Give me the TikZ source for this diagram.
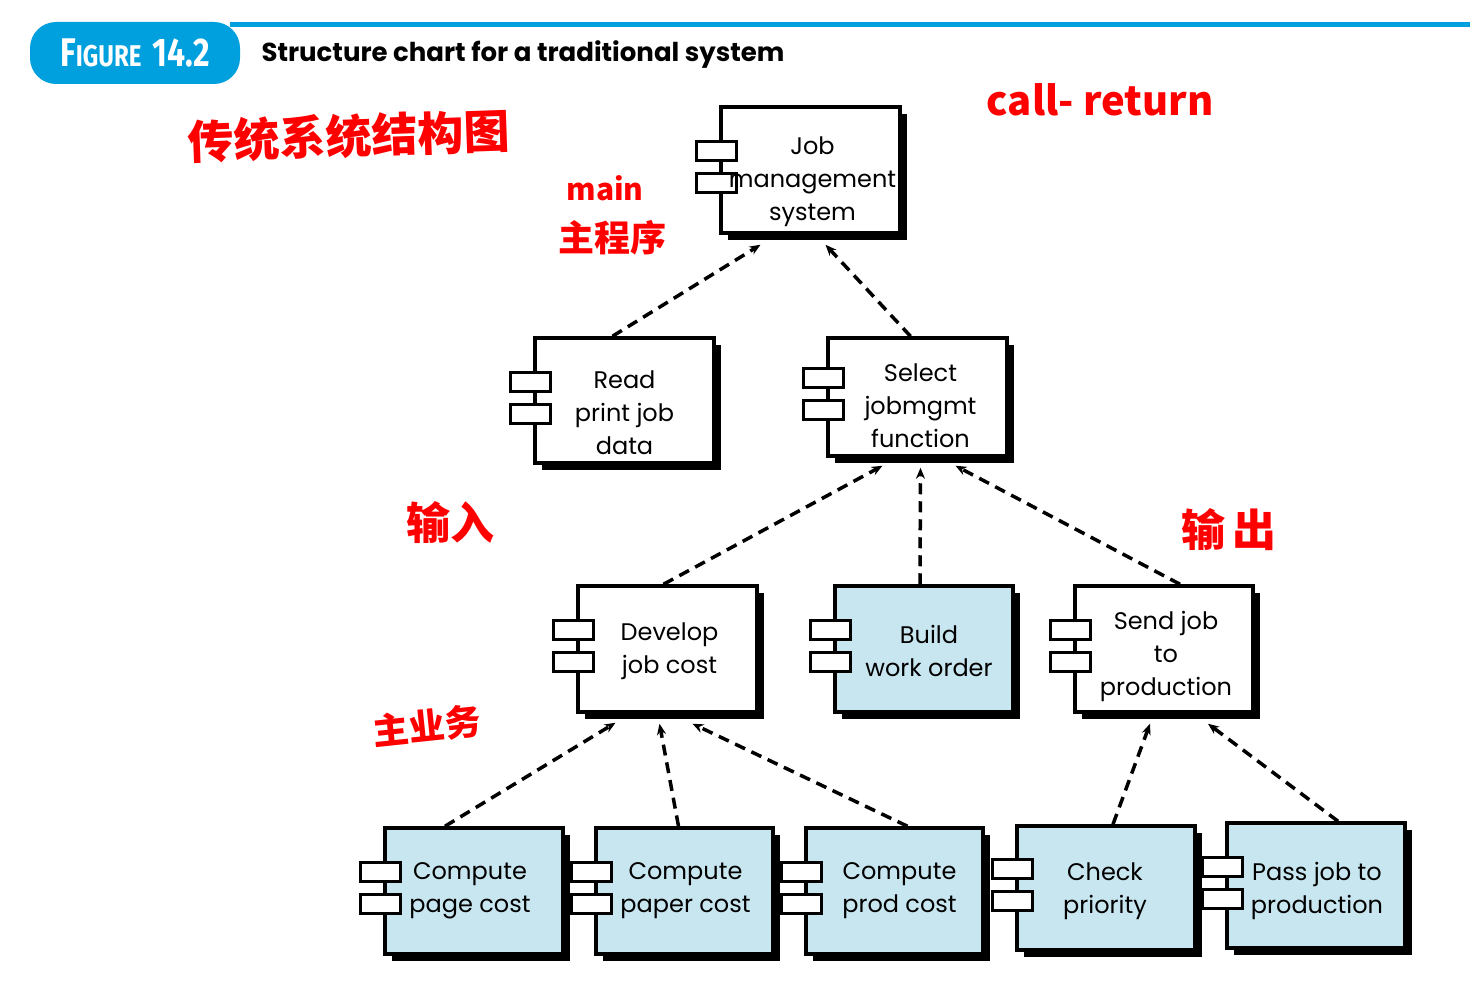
\documentclass[tikz,border=0pt]{standalone}
\usepackage{fontspec}
\setmainfont{Poppins}
\newfontfamily\cjk{Noto Sans CJK SC}
\newfontfamily\figfont{Fira Sans}[FakeStretch=0.8]
\usetikzlibrary{shapes, arrows.meta, positioning, shadows, calc}
\definecolor{figblue}{RGB}{0,160,222}
\definecolor{boxblue}{RGB}{200,230,240}
\definecolor{inkred}{RGB}{255,0,0}

\tikzset{
  comp/.style={draw, line width=3.5pt, fill=white, minimum width=179pt, minimum height=126pt,
    inner sep=0pt, drop shadow={shadow xshift=7pt, shadow yshift=-7pt, fill=black, opacity=1}},
  leaf/.style={comp, fill=boxblue},
  tab/.style={draw, line width=3pt, fill=white, minimum width=40pt, minimum height=19pt, inner sep=0pt},
  txt/.style={align=center, inner sep=0pt, font=\fontsize{24}{33}\selectfont},
  call/.style={-{Stealth[length=11pt,width=9pt]}, line width=3.5pt, dash pattern=on 11pt off 7pt},
  note/.style={text=inkred, inner sep=0pt}
}

\begin{document}
\begin{tikzpicture}[x=1pt, y=-1pt]
        \useasboundingbox (0,0) rectangle (1470,1000);

        % Title bar
        \fill[figblue] (230,22) rectangle (1470,27);
        \node[fill=figblue, rounded corners=26pt, minimum width=210pt, minimum height=62pt, text=white,
              font=\figfont\bfseries] (fig) at (135,53)
              {\fontsize{40}{40}\selectfont F\fontsize{30}{30}\selectfont IGURE\hspace{11pt}\fontsize{40}{40}\selectfont 14.2};
        \node[anchor=west, font=\bfseries\fontsize{26}{30}\selectfont] (caption) at (258,55) {Structure chart for a traditional system};

        % Modules
        \node[comp] (job) at (810.5,170) {};
        \node[comp, minimum height=125pt] (read) at (624.5,400.5) {};
        \node[comp, minimum height=118pt] (select) at (917.5,397) {};
        \node[comp] (develop) at (667.5,649) {};
        \node[leaf, minimum width=178pt] (build) at (924,649) {};
        \node[comp, minimum width=178pt] (send) at (1164,649) {};
        \node[leaf, minimum width=178pt] (page) at (474,891) {};
        \node[leaf, minimum width=177pt] (paper) at (684.5,891) {};
        \node[leaf, minimum width=177pt] (prod) at (894.5,891) {};
        \node[leaf, minimum width=178pt, minimum height=124pt] (check) at (1106,888) {};
        \node[leaf, minimum width=178pt, minimum height=125pt] (pass) at (1316,885.5) {};

        % Component tabs
        \foreach \n in {job,read,select,develop,build,send,page,paper,prod,check,pass} {
            \node[tab] (\n-top) at ($(\n.west)+(-3,-19)$) {};
            \node[tab] (\n-bot) at ($(\n.west)+(-3,13)$) {};
        }

        % Module names
        \node[txt] (job-t) at ($(job)+(2,12)$) {Job\\management\\system};
        \node[txt] (read-t) at ($(read)+(0,12)$) {Read\\print job\\data};
        \node[txt] (select-t) at ($(select)+(3,9)$) {Select\\jobmgmt\\function};
        \node[txt] (develop-t) at ($(develop)+(2,2)$) {Develop\\job cost};
        \node[txt] (build-t) at ($(build)+(5,2)$) {Build\\work order};
        \node[txt] (send-t) at ($(send)+(2,7)$) {Send job\\to\\production};
        \node[txt] (page-t) at ($(page)+(-4,0)$) {Compute\\page cost};
        \node[txt] (paper-t) at ($(paper)+(1,0)$) {Compute\\paper cost};
        \node[txt] (prod-t) at ($(prod)+(5,0)$) {Compute\\prod cost};
        \node[txt] (check-t) at ($(check)+(-1,3)$) {Check\\priority};
        \node[txt] (pass-t) at ($(pass)+(1,5)$) {Pass job to\\production};

        % Calls
        \draw[call] ($(read.north)+(-12,0)$) -- ($(job.south)+(-50,10)$);
        \draw[call] ($(select.north)+(-7,0)$) -- ($(job.south)+(15,10)$);
        \draw[call] ($(develop.north)+(-4,0)$) -- ($(select.south)+(-35,8)$);
        \draw[call] ($(build.north)+(-4,0)$) -- ($(select.south)+(3,10)$);
        \draw[call] ($(send.north)+(16,0)$) -- ($(select.south)+(38,8)$);
        \draw[call] ($(page.north)+(-29,0)$) -- ($(develop.south)+(-52,9)$);
        \draw[call] ($(paper.north)+(-6,0)$) -- ($(develop.south)+(-8,10)$);
        \draw[call] ($(prod.north)+(13,0)$) -- ($(develop.south)+(25,10)$);
        \draw[call] ($(check.north)+(7,0)$) -- ($(send.south)+(-14,10)$);
        \draw[call] ($(pass.north)+(22,0)$) -- ($(send.south)+(44,10)$);

        % Handwritten notes
        \node[note, font=\cjk\bfseries\fontsize{46}{46}\selectfont, rotate=2] (cntitle) at (349,136) {传统系统结构图};
        \node[note, font=\cjk\bfseries\fontsize{30}{30}\selectfont] (mainen) at (605,188) {main};
        \node[note, font=\cjk\bfseries\fontsize{36}{36}\selectfont] (maincn) at (612,238) {主程序};
        \node[note, font=\cjk\bfseries\fontsize{40}{40}\selectfont] (callret) at (1100,100) {call- return};
        \node[note, font=\cjk\bfseries\fontsize{44}{44}\selectfont] (incn) at (450,523) {输入};
        \node[note, font=\cjk\bfseries\fontsize{44}{44}\selectfont] (outcn) at (1229,530) {输\hspace{8pt}出};
        \node[note, font=\cjk\bfseries\fontsize{36}{36}\selectfont, rotate=6] (bizcn) at (427,726) {主业务};
\end{tikzpicture}
\end{document}
